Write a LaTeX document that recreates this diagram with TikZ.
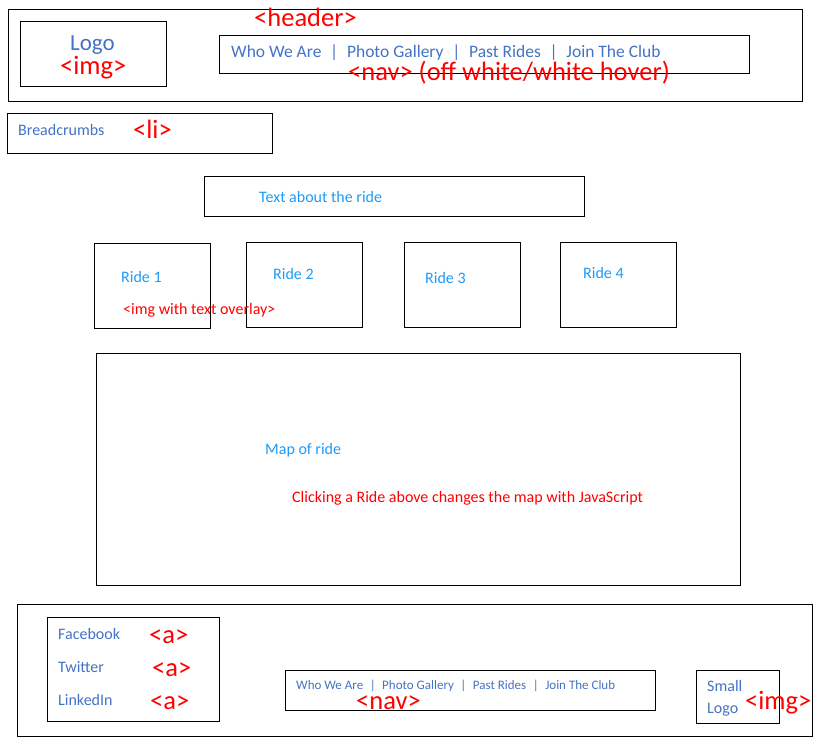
\documentclass[tikz,border=0pt]{standalone}
\usepackage{fontspec}
\setmainfont{Carlito}
\definecolor{navblue}{RGB}{68,114,196}
\definecolor{skyblue}{RGB}{30,155,245}
\definecolor{tagred}{RGB}{255,0,0}
\tikzset{
    box/.style={draw=black, line width=1pt},
    txt/.style={anchor=base west, inner sep=0pt, text=navblue, font=\fontsize{16}{18}\selectfont},
    sky/.style={txt, text=skyblue},
    tag/.style={anchor=base west, inner sep=0pt, text=tagred, font=\fontsize{26.5}{28}\selectfont},
    note/.style={anchor=base west, inner sep=0pt, text=tagred, font=\fontsize{16}{18}\selectfont},
}
\newcommand{\navsep}{\hspace{0.5em}|\hspace{0.5em}}

\begin{document}
\begin{tikzpicture}[x=1pt, y=-1pt]
        \useasboundingbox (0, 0) rectangle (824, 742);
        %header
        \draw[box] (8, 9) rectangle (802, 101);
        \draw[box] (20, 21) rectangle (166, 86);
        \draw[box] (219, 35) rectangle (749, 73);
        \node[tag] (headertag) at (254, 26) {<header>};
        \node[txt, font=\fontsize{23}{26}\selectfont] (logo) at (70, 50) {Logo};
        \node[tag] (logotag) at (60, 74) {<img>};
        \node[txt, font=\fontsize{17.5}{20}\selectfont] (navtext) at (231, 57)
            {Who We Are\navsep Photo Gallery\navsep Past Rides\navsep Join The Club};
        \node[tag] (navtag) at (348, 80) {<nav> (off white/white hover)};
        %breadcrumbs
        \draw[box] (7, 113) rectangle (272, 153);
        \node[txt] (crumbs) at (18, 135) {Breadcrumbs};
        \node[tag] (crumbstag) at (133, 138) {<li>};
        %text about the ride
        \draw[box] (204, 176) rectangle (584, 216);
        \node[sky] (about) at (259, 202) {Text about the ride};
        %rides
        \draw[box] (94, 243) rectangle (210, 328);
        \draw[box] (246, 242) rectangle (362, 327);
        \draw[box] (404, 242) rectangle (520, 327);
        \draw[box] (560, 242) rectangle (676, 327);
        \node[sky] (ride1) at (121, 282) {Ride 1};
        \node[sky] (ride2) at (273, 279) {Ride 2};
        \node[sky] (ride3) at (425, 283) {Ride 3};
        \node[sky] (ride4) at (583, 278) {Ride 4};
        \node[note] (ridetag) at (123, 314) {<img with text overlay>};
        %map
        \draw[box] (96, 353) rectangle (740, 585);
        \node[sky] (map) at (265, 454) {Map of ride};
        \node[note] (mapnote) at (292, 502) {Clicking a Ride above changes the map with JavaScript};
        %footer
        \draw[box] (17, 604) rectangle (812, 736);
        \draw[box] (47, 617) rectangle (219, 721);
        \node[txt] (facebook) at (58, 639) {Facebook};
        \node[txt] (twitter) at (58, 672) {Twitter};
        \node[txt] (linkedin) at (58, 705) {LinkedIn};
        \node[tag] (fbtag) at (149, 643) {<a>};
        \node[tag] (twtag) at (152, 676) {<a>};
        \node[tag] (litag) at (150, 709) {<a>};
        \draw[box] (285, 670) rectangle (655, 710);
        \node[txt, font=\fontsize{13}{15}\selectfont] (footnav) at (296, 689)
            {Who We Are\navsep Photo Gallery\navsep Past Rides\navsep Join The Club};
        \node[tag] (footnavtag) at (356, 709) {<nav>};
        \draw[box] (696, 670) rectangle (779, 723);
        \node[txt] (small) at (707, 691) {Small};
        \node[txt] (smalllogo) at (707, 713) {Logo};
        \node[tag] (smalltag) at (745, 709) {<img>};
\end{tikzpicture}
\end{document}
